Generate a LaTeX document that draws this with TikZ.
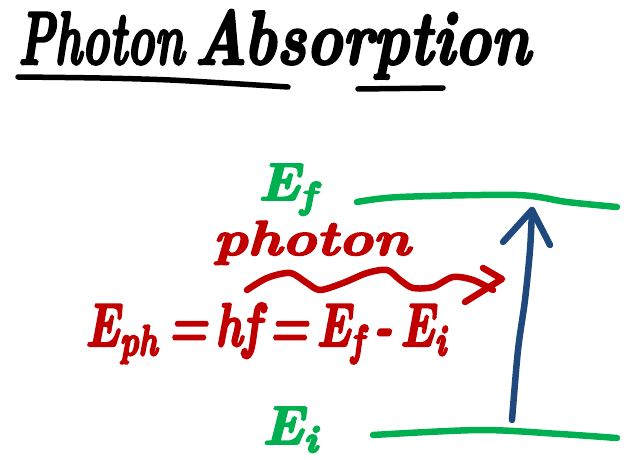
\documentclass[tikz,border=0pt]{standalone}
\usepackage{graphicx}
\definecolor{inkred}{HTML}{C00000}
\definecolor{inkgreen}{HTML}{00B050}
\definecolor{inkblue}{HTML}{1F497D}
\newcommand\heavytext[2]{\special{pdf:literal direct 2 Tr #1 w}#2\special{pdf:literal direct 0 Tr}}
\tikzset{
  ink/.style={line width=6.5pt, line cap=round, line join=round},
  hand/.style={inner sep=0pt, font=\bfseries\itshape},
}
\begin{document}
\begin{tikzpicture}[x=1pt,y=-1pt]
\useasboundingbox (0,0) rectangle (625,460);
% title
\node[hand, anchor=base west] (t1) at (18,64) {\resizebox{166pt}{52pt}{\heavytext{0.35}{Photon}}};
\node[hand, anchor=base west] (t2) at (194,64) {\resizebox{336pt}{54pt}{\heavytext{0.35}{Absorption}}};
\draw[ink, black, line width=5.5pt] plot[smooth] coordinates {(18,77) (100,78) (170,80) (240,84) (288,87)};
\draw[ink, black, line width=5.5pt] (358,89) -- (443,88);
% energy levels
\coordinate (f1) at (357,202);
\coordinate (f2) at (617,207);
\coordinate (i1) at (373,435);
\coordinate (i2) at (617,438);
\draw[ink, inkgreen] plot[smooth] coordinates {(f1) (400,197) (517,195) (567,202) (f2)};
\draw[ink, inkgreen] plot[smooth] coordinates {(i1) (480,430) (560,434) (i2)};
\node[hand, inkgreen, anchor=base west] (Ef) at (258,200) {\resizebox{60pt}{36pt}{\heavytext{0.35}{E\textsubscript{f}}}};
\node[hand, inkgreen, anchor=base west] (Ei) at (262,444) {\resizebox{58pt}{37pt}{\heavytext{0.35}{E\textsubscript{i}}}};
% blue transition arrow
\coordinate (tail) at (512,420);
\coordinate (tip) at (532,210);
\draw[ink, inkblue] plot[smooth] coordinates {(tail) (518,350) (525,300) (530,250) (tip)};
\draw[ink, inkblue] (503,242) -- (tip) -- (550,245);
% photon
\node[hand, inkred, anchor=base west] (ph) at (213,255) {\resizebox{197pt}{34pt}{\heavytext{0.35}{photon}}};
\coordinate (w0) at (247,290);
\coordinate (w1) at (493,290);
\draw[ink, inkred] plot[smooth] coordinates {(w0) (267,278) (290,273) (307,283) (320,290) (343,283) (367,273) (387,270) (400,280) (413,288) (433,287) (453,277) (473,280) (w1)};
\draw[ink, inkred] (483,268) -- (502,279) -- (465,302);
% equation
\node[hand, inkred, anchor=base west] (eq) at (85,346) {\resizebox{363pt}{43pt}{\heavytext{0.35}{E\textsubscript{ph}\,=\,hf\,=\,E\textsubscript{f}\,-\,E\textsubscript{i}}}};
\end{tikzpicture}
\end{document}
